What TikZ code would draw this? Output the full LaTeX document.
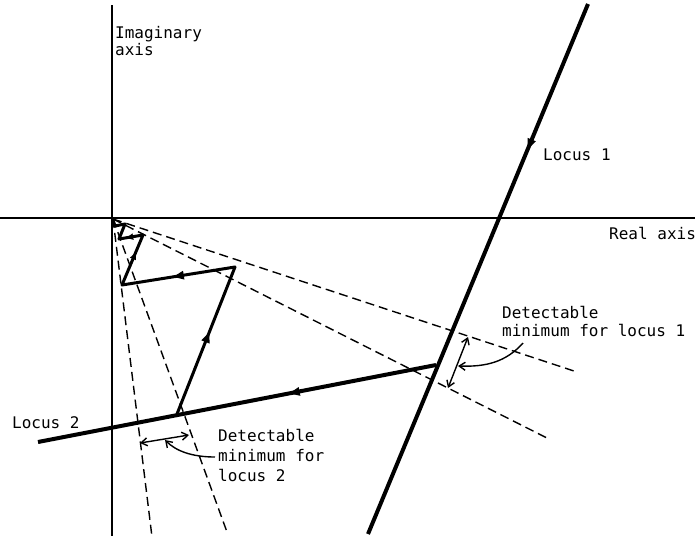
\documentclass[tikz,border=0pt]{standalone}
\usepackage{fontspec}
\setmainfont{DejaVu Sans Mono}
\usetikzlibrary{arrows.meta,decorations.markings}
\tikzset{
  axisline/.style={line width=2.2pt},
  locusline/.style={line width=4pt},
  pathseg/.style={line width=3pt, line cap=round},
  guide/.style={line width=1.4pt, dash pattern=on 9pt off 5pt},
  dimline/.style={line width=1.4pt, {Straight Barb[length=6pt,width=8pt]}-{Straight Barb[length=6pt,width=8pt]}},
  leader/.style={line width=1.4pt, -{Straight Barb[length=6pt,width=8pt]}},
  midarrow/.style={postaction={decorate}, decoration={markings, mark=at position #1 with {\arrow{Triangle[length=11pt,width=8pt]}}}},
  smallarrow/.style={postaction={decorate}, decoration={markings, mark=at position #1 with {\arrow{Triangle[length=7pt,width=6pt]}}}},
  lbl/.style={font=\fontsize{16}{19}\selectfont, inner sep=0pt, anchor=base west, align=left}
}
\begin{document}
\begin{tikzpicture}[x=1pt,y=-1pt]
\useasboundingbox (0,0) rectangle (695,539);
% axes
\coordinate (imT) at (112,5);
\coordinate (imB) at (112,536);
\coordinate (reL) at (0,218);
\coordinate (reR) at (695,218);
\coordinate (O) at (113,219);
\draw[axisline] (imT) -- (imB);
\draw[axisline] (reL) -- (reR);
% dashed guides
\coordinate (D1) at (577,372);
\coordinate (D2) at (547,438);
\coordinate (D3) at (152,537);
\coordinate (D4) at (227,532);
\draw[guide] (O) -- (D1);
\draw[guide] (O) -- (D2);
\draw[guide] (O) -- (D3);
\draw[guide] (O) -- (D4);
% loci
\coordinate (L1a) at (588,4);
\coordinate (L1b) at (368,534);
\coordinate (L2a) at (436,365);
\coordinate (L2b) at (38,442);
\draw[locusline, midarrow=0.275] (L1a) -- (L1b);
\draw[locusline, midarrow=0.37] (L2a) -- (L2b);
% converging path
\coordinate (P0) at (177,414);
\coordinate (P1) at (235,267);
\coordinate (P2) at (122,285);
\coordinate (P3) at (143,235);
\coordinate (P4) at (119,239);
\coordinate (P5) at (125,224);
\coordinate (P6) at (115,226);
\coordinate (P7) at (113,220);
\draw[pathseg, midarrow=0.56] (P0) -- (P1);
\draw[pathseg, midarrow=0.55] (P1) -- (P2);
\draw[pathseg, smallarrow=0.65] (P2) -- (P3);
\draw[pathseg, smallarrow=0.7] (P3) -- (P4);
\draw[pathseg] (P4) -- (P5);
\draw[pathseg] (P5) -- (P6);
\draw[pathseg] (P6) -- (P7);
% detectable minima
\coordinate (A1) at (468,337);
\coordinate (A2) at (448,388);
\draw[dimline] (A1) -- (A2);
\coordinate (B1) at (140,443);
\coordinate (B2) at (189,435);
\draw[dimline] (B1) -- (B2);
% labels (base anchor = baseline of last line)
\node[lbl, font=\fontsize{16}{17}\selectfont] (imlab) at (115,55) {Imaginary\\axis};
\node[lbl] (relab) at (609,239) {Real axis};
\node[lbl] (l1lab) at (543,160) {Locus 1};
\node[lbl] (l2lab) at (12,428) {Locus 2};
\node[lbl, font=\fontsize{16}{18}\selectfont] (dm1) at (502,336) {Detectable\\minimum for locus 1};
\node[lbl, font=\fontsize{16}{20}\selectfont] (dm2) at (218,481) {Detectable\\minimum for\\locus 2};
% leaders
\coordinate (T1) at (523,343);
\coordinate (T1e) at (458,366);
\draw[leader] (T1) .. controls (506,362) and (486,367) .. (T1e);
\coordinate (T2) at (215,457);
\coordinate (T2e) at (165,440);
\draw[leader] (T2) .. controls (192,457) and (176,451) .. (T2e);
\end{tikzpicture}
\end{document}
